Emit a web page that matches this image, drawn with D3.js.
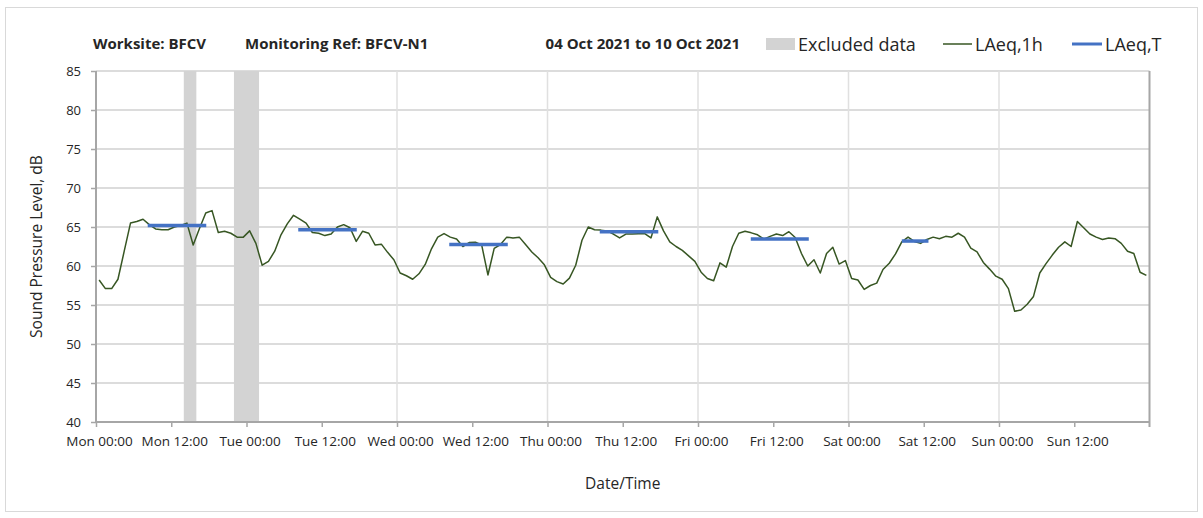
<!DOCTYPE html>
<html>
<head>
<meta charset="utf-8">
<script src="https://cdn.jsdelivr.net/npm/d3@7"></script>
<style>
  body { margin: 0; background: #fff; }
  svg text { font-family: "Open Sans", "Noto Sans", sans-serif; fill: #262626; }
</style>
</head>
<body>
<div class="chart"></div>
<script>
// chart text
const TITLE_PARTS = ["Worksite: BFCV", "Monitoring Ref: BFCV-N1", "04 Oct 2021 to 10 Oct 2021"];
const Y_TITLE = "Sound Pressure Level, dB";
const X_TITLE = "Date/Time";

// axis range
const START = new Date("2021-10-04T00:00:00Z");
const END = new Date("2021-10-11T00:00:00Z");
const Y_TICKS = [40, 45, 50, 55, 60, 65, 70, 75, 80, 85];

// hourly LAeq,1h values, first one is Mon 00:30
const FIRST_HOUR = new Date("2021-10-04T00:30:00Z");
const LAEQ_1H = [
  58.2, 57.1, 57.1, 58.3, 61.9, 65.5, 65.7, 66.0, 65.3, 64.75, 64.65, 64.65,
  65.0, 65.2, 65.5, 62.7, 64.8, 66.8, 67.1, 64.3, 64.45, 64.2, 63.7, 63.7,
  64.5, 62.9, 60.1, 60.6, 61.9, 64.0, 65.4, 66.5, 66.0, 65.5, 64.3, 64.2,
  63.9, 64.1, 65.0, 65.3, 64.9, 63.15, 64.45, 64.2, 62.7, 62.8, 61.75, 60.8,
  59.1, 58.75, 58.3, 59.0, 60.2, 62.2, 63.7, 64.15, 63.7, 63.45, 62.5, 63.0,
  63.05, 62.7, 58.85, 62.25, 62.75, 63.7, 63.6, 63.7, 62.75, 61.8, 61.05, 60.15,
  58.55, 58.0, 57.7, 58.45, 60.1, 63.3, 65.0, 64.65, 64.6, 64.5, 64.1, 63.6,
  64.1, 64.1, 64.15, 64.15, 63.6, 66.3, 64.5, 63.1, 62.5, 62.0, 61.3, 60.6,
  59.2, 58.4, 58.1, 60.4, 59.85, 62.5, 64.2, 64.45, 64.25, 64.0, 63.45, 63.8,
  64.1, 63.9, 64.4, 63.65, 61.6, 60.0, 60.8, 59.1, 61.6, 62.4, 60.25, 60.7,
  58.4, 58.2, 57.0, 57.5, 57.8, 59.55, 60.35, 61.55, 63.1, 63.7, 63.15, 62.9,
  63.4, 63.7, 63.5, 63.8, 63.7, 64.2, 63.7, 62.3, 61.8, 60.45, 59.6, 58.7,
  58.3, 57.1, 54.2, 54.35, 55.1, 56.1, 59.1, 60.3, 61.4, 62.4, 63.1, 62.5,
  65.7, 64.9, 64.1, 63.7, 63.4, 63.6, 63.5, 62.9, 61.9, 61.6, 59.2, 58.8
];

// LAeq,T over each daytime period
const PERIOD_START = ["2021-10-04T08:15", "2021-10-05T08:15", "2021-10-06T08:20", "2021-10-07T08:20", "2021-10-08T08:25", "2021-10-09T08:30"];
const PERIOD_END = ["2021-10-04T17:35", "2021-10-05T17:35", "2021-10-06T17:40", "2021-10-07T17:40", "2021-10-08T17:40", "2021-10-09T12:45"];
const LAEQ_T = [65.2, 64.65, 62.75, 64.4, 63.45, 63.2];

// excluded periods
const EXCL_START = ["2021-10-04T14:00", "2021-10-04T22:00"];
const EXCL_END = ["2021-10-04T16:00", "2021-10-05T02:00"];

const W = 1203, H = 518;
const PLOT = { left: 96, right: 1149.5, top: 71, bottom: 422 };

const GREEN = "#375623";
const BLUE = "#4472c4";
const BAND = "#d3d3d3";
const GRID = "#d0d0d0";
const AXIS = "#a6a6a6";

const parseT = d => new Date(d + ":00Z");

const hourly = LAEQ_1H.map((v, i) => ({ t: d3.utcHour.offset(FIRST_HOUR, i), v: v }));
const periods = LAEQ_T.map((v, i) => ({ a: parseT(PERIOD_START[i]), b: parseT(PERIOD_END[i]), v: v }));
const excluded = EXCL_START.map((s, i) => ({ a: parseT(s), b: parseT(EXCL_END[i]) }));

const svg = d3.select(".chart").append("svg")
  .attr("width", W).attr("height", H);

// outer chart border
svg.append("rect")
  .attr("x", 5.5).attr("y", 7.5)
  .attr("width", 1192).attr("height", 504)
  .attr("fill", "none").attr("stroke", "#d9d9d9");

const x = d3.scaleUtc().domain([START, END]).range([PLOT.left, PLOT.right]);
const y = d3.scaleLinear().domain([40, 85]).range([PLOT.bottom, PLOT.top]);

// gridlines
svg.append("g").selectAll("line")
  .data(Y_TICKS.slice(1))
  .join("line")
  .attr("x1", PLOT.left).attr("x2", PLOT.right)
  .attr("y1", d => y(d)).attr("y2", d => y(d))
  .attr("stroke", GRID).attr("stroke-width", 1.5);

svg.append("g").selectAll("line")
  .data(d3.utcDay.range(d3.utcDay.offset(START, 1), END))
  .join("line")
  .attr("x1", d => x(d)).attr("x2", d => x(d))
  .attr("y1", PLOT.top).attr("y2", PLOT.bottom)
  .attr("stroke", "#e0e0e0").attr("stroke-width", 1.5);

// excluded bands
svg.append("g").selectAll("rect")
  .data(excluded)
  .join("rect")
  .attr("x", d => x(d.a))
  .attr("width", d => x(d.b) - x(d.a))
  .attr("y", PLOT.top)
  .attr("height", PLOT.bottom - PLOT.top)
  .attr("fill", BAND);

// axes
const xAxis = d3.axisBottom(x)
  .tickValues(d3.utcHour.every(12).range(START, END))
  .tickFormat(d3.utcFormat("%a %H:%M"))
  .tickSize(5).tickPadding(9);

const gx = svg.append("g")
  .attr("transform", `translate(0,${PLOT.bottom})`)
  .call(xAxis);
gx.select(".domain").attr("stroke", AXIS).attr("stroke-width", 2).attr("d", `M${PLOT.left},0H${PLOT.right}`);
gx.selectAll(".tick line").attr("stroke", AXIS).attr("stroke-width", 1.5);
gx.selectAll(".tick text").attr("dx", 3).style("font-size", "13.5px");

const yAxis = d3.axisLeft(y).tickValues(Y_TICKS).tickSize(5).tickPadding(10);
const gy = svg.append("g")
  .attr("transform", `translate(${PLOT.left},0)`)
  .call(yAxis);
gy.select(".domain").attr("stroke", AXIS).attr("stroke-width", 2).attr("d", `M0,${PLOT.bottom}V${PLOT.top}`);
gy.selectAll(".tick line").attr("stroke", AXIS).attr("stroke-width", 1.5);
gy.selectAll(".tick text").style("font-size", "13px");

// right border of plot
svg.append("line")
  .attr("x1", PLOT.right).attr("x2", PLOT.right)
  .attr("y1", PLOT.top).attr("y2", PLOT.bottom + 5)
  .attr("stroke", AXIS).attr("stroke-width", 2);

// LAeq,1h line
const line = d3.line().x(d => x(d.t)).y(d => y(d.v));
svg.append("path")
  .datum(hourly)
  .attr("d", line)
  .attr("fill", "none")
  .attr("stroke", GREEN)
  .attr("stroke-width", 1.5)
  .attr("stroke-linejoin", "round");

// LAeq,T segments
svg.append("g").selectAll("line")
  .data(periods)
  .join("line")
  .attr("x1", d => x(d.a)).attr("x2", d => x(d.b))
  .attr("y1", d => y(d.v)).attr("y2", d => y(d.v))
  .attr("stroke", BLUE).attr("stroke-width", 3.5);

// axis titles
svg.append("text")
  .attr("transform", `translate(42,${(PLOT.top + PLOT.bottom) / 2}) rotate(-90)`)
  .attr("text-anchor", "middle")
  .style("font-size", "15.5px")
  .text(Y_TITLE);

svg.append("text")
  .attr("x", (PLOT.left + PLOT.right) / 2)
  .attr("y", 489)
  .attr("text-anchor", "middle")
  .style("font-size", "15.5px")
  .text(X_TITLE);

// title pieces: first two from the left, date range ends at 740
const TITLE_X = [93, 245, 740];
const TITLE_ANCHOR = ["start", "start", "end"];
svg.append("g").selectAll("text")
  .data(TITLE_PARTS)
  .join("text")
  .attr("x", (d, i) => TITLE_X[i])
  .attr("y", 49)
  .attr("text-anchor", (d, i) => TITLE_ANCHOR[i])
  .style("font-size", "15px")
  .style("font-weight", "bold")
  .text(d => d);

// legend
const lg = svg.append("g").attr("transform", "translate(0,44)");
lg.append("rect").attr("x", 766).attr("y", -6).attr("width", 29).attr("height", 12).attr("fill", BAND);
lg.append("text").attr("x", 798).attr("y", 6.5).style("font-size", "18px").text("Excluded data");
lg.append("line").attr("x1", 943).attr("x2", 972).attr("y1", 0).attr("y2", 0).attr("stroke", GREEN).attr("stroke-width", 1.5);
lg.append("text").attr("x", 975).attr("y", 6.5).style("font-size", "18px").text("LAeq,1h");
lg.append("line").attr("x1", 1072).attr("x2", 1102).attr("y1", 0).attr("y2", 0).attr("stroke", BLUE).attr("stroke-width", 3);
lg.append("text").attr("x", 1105).attr("y", 6.5).style("font-size", "18px").text("LAeq,T");
</script>
</body>
</html>
